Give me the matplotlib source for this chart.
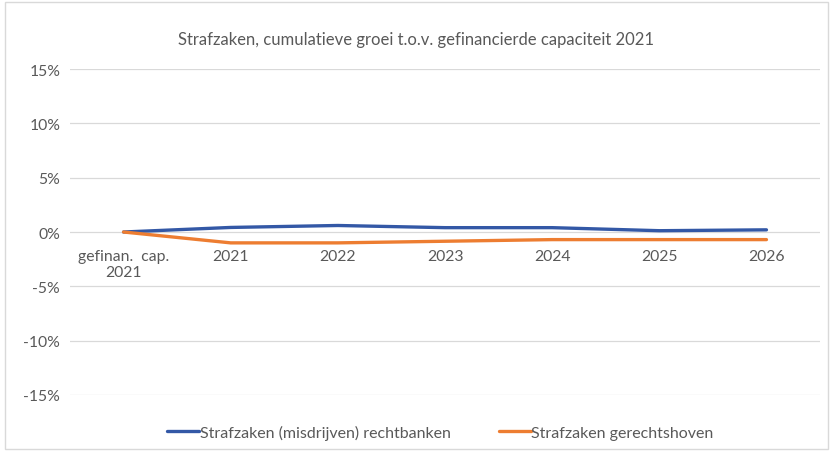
import matplotlib.pyplot as plt
from matplotlib.patches import Rectangle

plt.rcParams['font.family'] = ['Lato', 'DejaVu Sans']

categories = ['gefinan.  cap.\n2021', '2021', '2022', '2023', '2024', '2025', '2026']
rechtbanken = [0.0, 0.42, 0.6, 0.4, 0.4, 0.12, 0.2]
gerechtshoven = [0.0, -1.0, -1.0, -0.85, -0.7, -0.7, -0.7]
yticks = [-15, -10, -5, 0, 5, 10, 15]

fig = plt.figure(figsize=(8.31, 4.52), dpi=100)
ax = fig.add_axes([0.0842, 0.1239, 0.9026, 0.7212])

x = range(len(categories))
ax.plot(x, rechtbanken, color='#3358A6', lw=2.4, solid_capstyle='round',
        label='Strafzaken (misdrijven) rechtbanken', zorder=3)
ax.plot(x, gerechtshoven, color='#ED7D31', lw=2.4, solid_capstyle='round',
        label='Strafzaken gerechtshoven', zorder=3)

ax.set_xlim(-0.5, 6.5)
ax.set_ylim(-15, 15)
ax.set_yticks(yticks)
ax.set_yticklabels([f'{v}%' for v in yticks])
ax.set_xticks(list(x))
ax.set_xticklabels(categories)
ax.grid(axis='y', color='#D9D9D9', lw=0.9)
ax.set_axisbelow(True)
for s in ['top', 'right', 'left']:
    ax.spines[s].set_visible(False)
ax.spines['bottom'].set_position(('data', 0))
ax.spines['bottom'].set_visible(False)
ax.tick_params(axis='both', length=0, labelsize=11.3, colors='#595959')
ax.tick_params(axis='y', pad=7)
ax.tick_params(axis='x', pad=12)

fig.text(0.5, 0.911, 'Strafzaken, cumulatieve groei t.o.v. gefinancierde capaciteit 2021',
         ha='center', va='center', fontsize=12, color='#595959')
fig.legend(loc='center', bbox_to_anchor=(0.53, 0.042), ncol=2, frameon=False,
           fontsize=11.5, labelcolor='#595959', handlelength=2.0, handletextpad=0.05,
           columnspacing=3.0)
fig.patches.append(Rectangle((0.006, 0.004), 0.99, 0.99, transform=fig.transFigure,
                             fill=False, edgecolor='#D9D9D9', lw=1))

fig.savefig('out.png', dpi=100)
